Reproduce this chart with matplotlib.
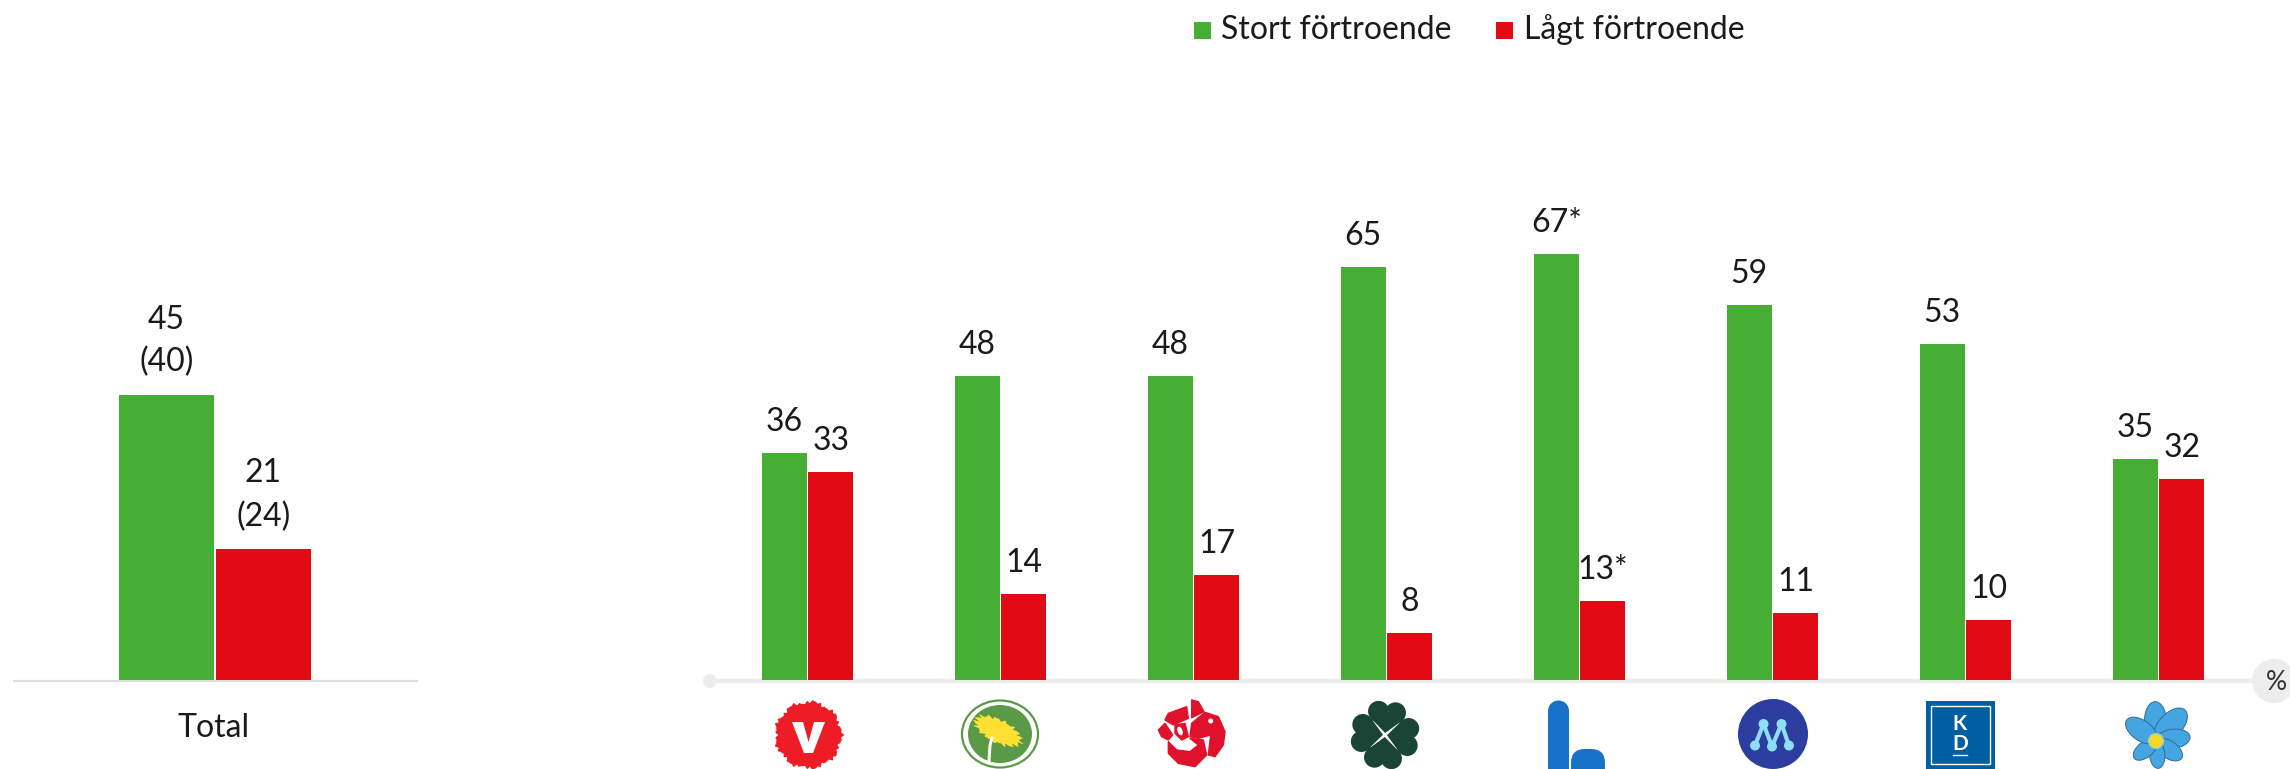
import numpy as np
import matplotlib
matplotlib.use('Agg')
import matplotlib.pyplot as plt
from matplotlib.patches import Circle, Ellipse, Rectangle, FancyBboxPatch, Polygon

plt.rcParams['font.family'] = ['Lato', 'DejaVu Sans']

# ── DATA ──────────────────────────────────────────────────────────────
series_names = ['Stort förtroende', 'Lågt förtroende']
total_label = 'Total'
total_high = [45]
total_low = [21]
total_high_prev = ['(40)']
total_low_prev = ['(24)']

parties = ['V', 'MP', 'S', 'C', 'L', 'M', 'KD', 'SD']
party_high = [36, 48, 48, 65, 67, 59, 53, 35]
party_low = [33, 14, 17, 8, 13, 11, 10, 32]
party_high_txt = ['36', '48', '48', '65', '67*', '59', '53', '35']
party_low_txt = ['33', '14', '17', '8', '13*', '11', '10', '32']

GREEN = '#46AE35'
RED = '#E10B14'
AXIS = '#EDEDED'
TXT = '#1a1a1a'
W, H = 2290, 769
BASE_Y = 680       # where the bars get cut off by the axis line
ZERO_Y = 684       # where value 0 sits, just under the line
PX_PER_UNIT = 6.42
FS = 23

fig = plt.figure(figsize=(W / 100, H / 100), dpi=100)
fig.patch.set_facecolor('white')


def px_axes(x0, x1):
    ax = fig.add_axes([x0 / W, (H - BASE_Y) / H, (x1 - x0) / W, BASE_Y / H])
    ax.set_ylim((ZERO_Y - BASE_Y) / PX_PER_UNIT, ZERO_Y / PX_PER_UNIT)
    ax.axis('off')
    ax.patch.set_alpha(0)
    return ax


def label(ax, x, y, s, px_up):
    ax.annotate(s, (x, y), xytext=(0, px_up * 0.72), textcoords='offset points',
                ha='center', va='baseline', fontsize=FS, color=TXT)


# ── OVERLAY (pixel coords, axis lines + logos + legend) ───────────────
ov = fig.add_axes([0, 0, 1, 1])
ov.set_xlim(0, W)
ov.set_ylim(H, 0)
ov.axis('off')

# left baseline
ov.plot([13, 418], [681, 681], color='#DEDEDE', lw=1.6, solid_capstyle='butt')
# right baseline with end caps
ov.plot([710, 2260], [681, 681], color=AXIS, lw=3.2, solid_capstyle='butt')
ov.add_patch(Circle((710, 681), 7, color=AXIS, lw=0))
ov.add_patch(Circle((2274, 681), 22, color=AXIS, lw=0))
ov.text(2276, 682, '%', ha='center', va='center', fontsize=19, color='#333333')

# ── LEFT PANEL ────────────────────────────────────────────────────────
ax_total = px_axes(13, 418)
ax_total.set_xlim((13 - 215) / 95, (418 - 215) / 95)
ax_total.bar([-0.51], total_high, width=1, color=GREEN, linewidth=0)
ax_total.bar([0.51], total_low, width=1, color=RED, linewidth=0)
label(ax_total, -0.51, total_high[0], total_high_prev[0], 24)
label(ax_total, -0.51, total_high[0], str(total_high[0]), 66)
label(ax_total, 0.51, total_low[0], total_low_prev[0], 23)
label(ax_total, 0.51, total_low[0], str(total_low[0]), 67)
ov.text(214, 737, total_label, ha='center', va='baseline', fontsize=23, color=TXT)

# ── RIGHT PANEL ───────────────────────────────────────────────────────
ax_party = px_axes(710, 2252)
ax_party.set_xlim((710 - 807.5) / 193, (2252 - 807.5) / 193)
xs = np.arange(len(parties))
bw = 44.5 / 193
off = 23.2 / 193
ax_party.bar(xs - off, party_high, width=bw, color=GREEN, linewidth=0)
ax_party.bar(xs + off, party_low, width=bw, color=RED, linewidth=0)
for i in range(len(parties)):
    label(ax_party, xs[i] - off, party_high[i], party_high_txt[i], 22)
    label(ax_party, xs[i] + off, party_low[i], party_low_txt[i], 22)

# ── LEGEND ────────────────────────────────────────────────────────────
ov.add_patch(Rectangle((1194, 22), 17, 17, color=GREEN, lw=0))
ov.text(1221, 39, series_names[0], va='baseline', fontsize=23, color=TXT)
ov.add_patch(Rectangle((1496, 22), 17, 17, color=RED, lw=0))
ov.text(1524, 39, series_names[1], va='baseline', fontsize=23, color=TXT)

# ── PARTY LOGOS ───────────────────────────────────────────────────────
# V
t = np.linspace(0, 2 * np.pi, 240, endpoint=False)
r = 33 + 1.2 * np.cos(9 * t) + 0.9 * np.cos(31 * t) + 0.6 * np.cos(47 * t)
ov.add_patch(Polygon(np.c_[808.5 + r * np.cos(t), 735 + r * np.sin(t)], color='#EE1C25', lw=0))
ov.add_patch(Polygon([(792, 722), (803, 722), (808.5, 742), (814, 722), (825, 722),
                      (813, 753), (804, 753)], color='white', lw=0))

# MP
ov.add_patch(Ellipse((1000, 734), 76, 67, fc='white', ec='#5A9A46', lw=1.6))
ov.add_patch(Ellipse((1000, 734), 64, 58, color='#5A9A46', lw=0))
ov.plot([989, 990, 992], [761, 745, 738], color='white', lw=2.2)
t = np.linspace(0, 2 * np.pi, 160, endpoint=False)
rad = 1 + 0.09 * np.cos(17 * t) + 0.06 * np.cos(29 * t)
a = np.deg2rad(27)
ex, ey = 25 * rad * np.cos(t), 11 * rad * np.sin(t)
ov.add_patch(Polygon(np.c_[998 + ex * np.cos(a) - ey * np.sin(a),
                           731 + ex * np.sin(a) + ey * np.cos(a)], color='#FFE135', lw=0))

# S, petals traced in a 3x crop of the logo
rose = [
    [(85, 55), (140, 35), (145, 70), (100, 90), (75, 75)],
    [(155, 15), (175, 20), (192, 50), (155, 68)],
    [(195, 52), (235, 65), (255, 110), (250, 150), (225, 185), (205, 180), (212, 120),
     (175, 130), (150, 125), (155, 85)],
    [(55, 105), (75, 85), (98, 120), (85, 135), (65, 125)],
    [(105, 90), (135, 85), (145, 125), (125, 135), (105, 115)],
    [(85, 140), (110, 165), (150, 170), (175, 150), (150, 130), (190, 135), (200, 180),
     (165, 215), (115, 205), (85, 175)],
]
for p in rose:
    ov.add_patch(Polygon([(1140 + x / 3, 695 + y / 3) for x, y in p], closed=True,
                         color='#E0112B', lw=1, joinstyle='round'))
ov.add_patch(Ellipse((1140 + 120 / 3, 695 + 108 / 3), 5, 9, angle=-20, color='white', lw=0))
ov.add_patch(Circle((1140 + 212 / 3, 695 + 78 / 3), 2.5, color='white', lw=0))

# C
for ang in [85, 175, 265, 355]:
    a = np.deg2rad(ang)
    c, s = np.cos(a), np.sin(a)
    cx, cy = 1385, 735
    for d in [-8.5, 8.5]:
        ov.add_patch(Circle((cx + 23 * c - d * s, cy - 23 * s - d * c), 10.5, color='#1A4435', lw=0))
    ov.add_patch(Polygon([(cx + 2 * c, cy - 2 * s),
                          (cx + 15 * c - 15 * s, cy - 15 * s - 15 * c),
                          (cx + 26 * c - 8 * s, cy - 26 * s - 8 * c),
                          (cx + 26 * c + 8 * s, cy - 26 * s + 8 * c),
                          (cx + 15 * c + 15 * s, cy - 15 * s + 15 * c)],
                         color='#1A4435', lw=0))

# L
ov.add_patch(Rectangle((1548, 711), 21, 58, color='#1771C6', lw=0))
ov.add_patch(Circle((1558.5, 711), 10.5, color='#1771C6', lw=0))
ov.add_patch(FancyBboxPatch((1585, 763), 6, 30, boxstyle='round,pad=14,rounding_size=14',
                            color='#1771C6', lw=0))

# M
ov.add_patch(Circle((1773, 734), 35, color='#2B3D9E', lw=0))
m_top = [(1763.5, 724), (1781.5, 724)]
m_bot = [(1755, 745.5), (1772, 746.5), (1789, 745.5)]
for (x0, y0), (x1, y1) in [(m_top[0], m_bot[0]), (m_top[0], m_bot[1]),
                           (m_top[1], m_bot[1]), (m_top[1], m_bot[2])]:
    ov.plot([x0, x1], [y0, y1], color='#8FDDFB', lw=3)
for x0, y0 in m_top + m_bot:
    ov.add_patch(Circle((x0, y0), 5, color='#8FDDFB', lw=0))

# KD
ov.add_patch(Rectangle((1926, 701), 69, 68, color='#005EA2', lw=0))
ov.add_patch(Rectangle((1931, 706), 59, 58, fc='none', ec='white', lw=1))
ov.text(1960, 723.5, 'K', ha='center', va='center', fontsize=15, color='white', fontweight='bold')
ov.text(1960, 743.5, 'D', ha='center', va='center', fontsize=15, color='white', fontweight='bold')
ov.plot([1953, 1967], [755, 755], color='white', lw=1)

# SD, petal tips from a 3x crop of the logo
sd_c = (2156, 741)
sd_tips = [(150, 20), (240, 45), (255, 125), (230, 190), (160, 220), (88, 190), (65, 75)]
for tx, ty in sd_tips:
    tx, ty = 2105 + tx / 3, 695 + ty / 3
    length = np.hypot(tx - sd_c[0], ty - sd_c[1])
    ang = np.degrees(np.arctan2(ty - sd_c[1], tx - sd_c[0]))
    ov.add_patch(Ellipse(((tx + sd_c[0]) / 2, (ty + sd_c[1]) / 2), length, length * 0.56, angle=ang,
                         fc='#45A5E0', ec='#2F6E99', lw=0.7))
ov.add_patch(Circle(sd_c, 7.5, fc='#F2D822', ec='#8FCFE8', lw=0.8))

fig.savefig('out.png', dpi=100)
